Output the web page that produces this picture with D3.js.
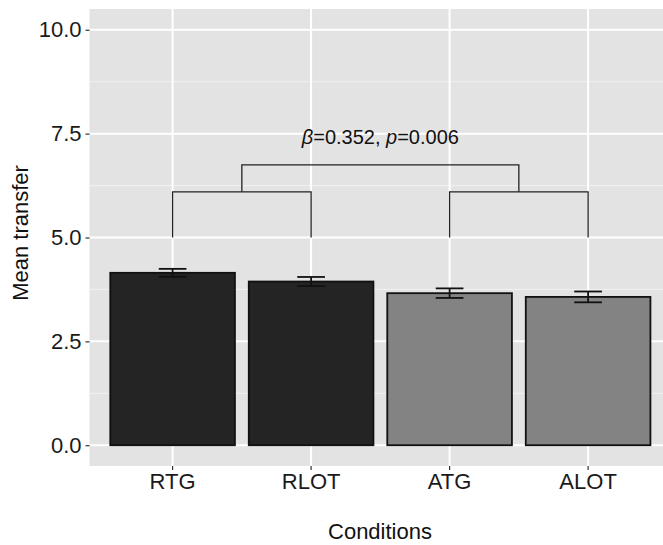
<!DOCTYPE html>
<html><head><meta charset="utf-8">
<script src="https://cdn.jsdelivr.net/npm/d3@7"></script>
<style>html,body{margin:0;padding:0;background:#fff;overflow:hidden}svg{display:block;font-family:"Liberation Sans",Arial,Helvetica,sans-serif}</style>
</head><body><svg id="c" width="663" height="545"></svg>
<script>
const categories = ["RTG", "RLOT", "ATG", "ALOT"];
const means = [4.15, 3.94, 3.66, 3.57];
const errors = [0.095, 0.11, 0.115, 0.13];
const groups = ["R", "R", "A", "A"];
const yTicks = [0, 2.5, 5, 7.5, 10];
const yMinor = [1.25, 3.75, 6.25, 8.75];
const brackets = [
  {from: "RTG", to: "RLOT", base: 5.0, top: 6.1},
  {from: "ATG", to: "ALOT", base: 5.0, top: 6.1}
];
const topBracket = {base: 6.1, top: 6.75};
const annotationY = 7.42;

const W = 663, H = 545;
const L = 89.5, T = 9, B = 466;
const step = 138.5;
const R = L + 4.2 * step;
const fills = {R: "#242424", A: "#838383"};

const svg = d3.select("#c");
const x = d3.scaleBand().domain(categories).range([L, R]).paddingInner(0.1).paddingOuter(0.15);
const y = d3.scaleLinear().domain([-0.5, 10.5]).range([B, T]);
const cx = c => x(c) + x.bandwidth() / 2;

// panel
svg.append("rect").attr("x", L).attr("y", T).attr("width", R - L).attr("height", B - T).attr("fill", "#E3E3E3");
// minor grid
svg.append("g").selectAll("line").data(yMinor).join("line")
  .attr("x1", L).attr("x2", R).attr("y1", d => y(d)).attr("y2", d => y(d))
  .attr("stroke", "#F1F1F1").attr("stroke-width", 1);
// major grid
svg.append("g").selectAll("line").data(yTicks).join("line")
  .attr("x1", L).attr("x2", R).attr("y1", d => y(d)).attr("y2", d => y(d))
  .attr("stroke", "#FFFFFF").attr("stroke-width", 2);
svg.append("g").selectAll("line").data(categories).join("line")
  .attr("x1", d => cx(d)).attr("x2", d => cx(d)).attr("y1", T).attr("y2", B)
  .attr("stroke", "#FFFFFF").attr("stroke-width", 2);

// bars
svg.append("g").selectAll("rect").data(categories).join("rect")
  .attr("x", d => x(d)).attr("width", x.bandwidth())
  .attr("y", (d, i) => y(means[i])).attr("height", (d, i) => y(0) - y(means[i]))
  .attr("fill", (d, i) => fills[groups[i]]).attr("stroke", "#111").attr("stroke-width", 1.8);

// error bars
const eb = svg.append("g").attr("stroke", "#111").attr("stroke-width", 1.8).attr("fill", "none");
const capW = step * 0.2;
categories.forEach((c, i) => {
  const xc = cx(c), hi = y(means[i] + errors[i]), lo = y(means[i] - errors[i]);
  eb.append("line").attr("x1", xc).attr("x2", xc).attr("y1", hi).attr("y2", lo);
  eb.append("line").attr("x1", xc - capW / 2).attr("x2", xc + capW / 2).attr("y1", hi).attr("y2", hi);
  eb.append("line").attr("x1", xc - capW / 2).attr("x2", xc + capW / 2).attr("y1", lo).attr("y2", lo);
});

// brackets
const br = svg.append("g").attr("stroke", "#222").attr("stroke-width", 1.3).attr("fill", "none");
const mids = [];
brackets.forEach(b => {
  const x1 = cx(b.from), x2 = cx(b.to);
  br.append("path").attr("d", `M${x1},${y(b.base)}V${y(b.top)}H${x2}V${y(b.base)}`);
  mids.push((x1 + x2) / 2);
});
br.append("path").attr("d", `M${mids[0]},${y(topBracket.base)}V${y(topBracket.top)}H${mids[1]}V${y(topBracket.base)}`);

const ann = svg.append("text").attr("x", (mids[0] + mids[1]) / 2).attr("y", y(annotationY)).attr("dy", "0.35em")
  .attr("text-anchor", "middle").attr("font-size", 20).attr("fill", "#111");
ann.append("tspan").attr("font-style", "italic").text("β");
ann.append("tspan").text("=0.352, ");
ann.append("tspan").attr("font-style", "italic").text("p");
ann.append("tspan").text("=0.006");

// axes
const yAxis = svg.append("g").attr("transform", `translate(${L},0)`)
  .call(d3.axisLeft(y).tickValues(yTicks).tickFormat(d3.format(".1f")).tickSize(4).tickPadding(4));
yAxis.select(".domain").remove();
yAxis.selectAll(".tick line").attr("stroke", "#333").attr("stroke-width", 1.2);
yAxis.selectAll(".tick text").attr("font-size", 22).attr("fill", "#1a1a1a").attr("font-family", null);

const xAxis = svg.append("g").attr("transform", `translate(0,${B})`)
  .call(d3.axisBottom(x).tickSize(4).tickPadding(3));
xAxis.select(".domain").remove();
xAxis.selectAll(".tick line").attr("stroke", "#333").attr("stroke-width", 1.2);
xAxis.selectAll(".tick text").attr("font-size", 22).attr("fill", "#1a1a1a").attr("font-family", null);

// titles
svg.append("text").attr("x", 380).attr("y", 539).attr("text-anchor", "middle")
  .attr("font-size", 22).attr("fill", "#111").text("Conditions");
svg.append("text").attr("transform", "translate(28,233) rotate(-90)").attr("text-anchor", "middle")
  .attr("font-size", 22).attr("fill", "#111").text("Mean transfer");
</script></body></html>
